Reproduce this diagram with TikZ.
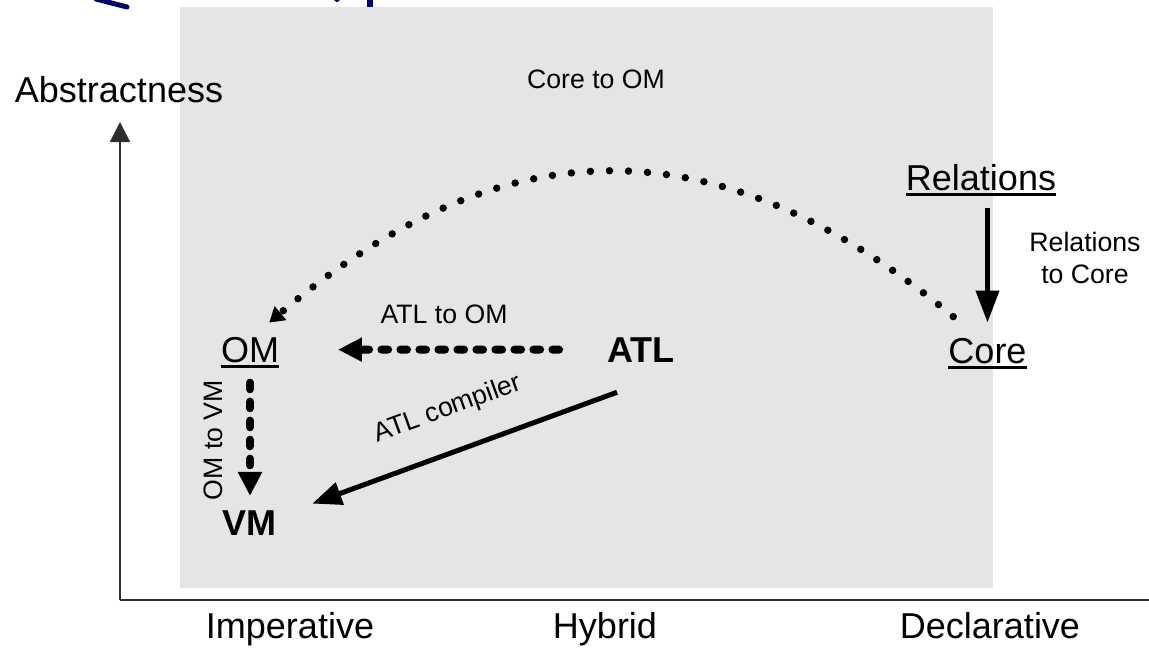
\documentclass[tikz,border=0pt]{standalone}
\usepackage{fontspec}
\setmainfont{Liberation Sans}
\usetikzlibrary{arrows.meta}
\definecolor{panel}{RGB}{229,229,229}
\definecolor{titleblue}{RGB}{0,0,102}
\definecolor{axisgray}{RGB}{45,45,45}
\begin{document}
\begin{tikzpicture}[x=0.75pt,y=-0.75pt,
  txt/.style={inner sep=0pt, font=\fontsize{27}{32}\selectfont},
  boldtxt/.style={inner sep=0pt, font=\fontsize{27}{32}\selectfont\bfseries},
  lbl/.style={inner sep=0pt, font=\fontsize{20}{24}\selectfont},
  axisline/.style={draw=axisgray, line width=1.2pt},
  uline/.style={line width=2.25pt},
  solidarrow/.style={line width=3.75pt, -{Triangle[length=24pt,width=17pt]}},
  dasharrow/.style={line width=6pt, line cap=round, dash pattern=on 5pt off 9.25pt,
    -{Triangle[length=18pt,width=17pt]}},
  dotarrow/.style={line width=5.6pt, line cap=round, dash pattern=on 0pt off 14.3pt,
    -{Triangle[length=11pt,width=13pt]}}]

\useasboundingbox (0,0) rectangle (1149,650);

% shaded panel behind the transformation languages
\fill[panel] (180,7) rectangle (993,588);

% remnants of the heading along the top edge
\draw[titleblue, line width=3.75pt, line cap=round] (96,-1) -- (127,7);
\fill[titleblue] (367,-10) rectangle (373,7);
\fill[titleblue] (337,-1) circle (3);

% axes
\coordinate (origin) at (120,600);
\coordinate (ytop) at (120,122);
\coordinate (xend) at (1149,600);
\draw[axisline, -{Triangle[length=15pt,width=15pt]}] (origin) -- (ytop);
\draw[axisline] (origin) -- (xend);

\node[txt, anchor=base] (abs) at (119,102) {Abstractness};
\node[txt, anchor=base] (imp) at (290,638) {Imperative};
\node[txt, anchor=base] (hyb) at (605,638) {Hybrid};
\node[txt, anchor=base] (dec) at (990,638) {Declarative};

% languages
\node[txt, anchor=base] (rel) at (981,190) {Relations};
\node[txt, anchor=base] (core) at (987.5,363) {Core};
\node[txt, anchor=base] (om) at (250,362) {OM};
\node[boldtxt, anchor=base] (atl) at (641,362) {ATL};
\node[boldtxt, anchor=base] (vm) at (249,535) {VM};

\foreach \n in {rel,core,om}
  \draw[uline] ([yshift=-3.4pt]\n.base west) -- ([yshift=-3.4pt]\n.base east);

% transformations
\draw[solidarrow, shorten <=12.75pt, shorten >=11.25pt] (core.north |- rel.south) -- (core.north);
\draw[dasharrow, shorten <=36pt, shorten >=44pt] (atl.west) -- (om.east);
\draw[dasharrow, shorten <=15pt, shorten >=10.5pt] (om.south) -- (om.south |- vm.north);
\draw[solidarrow, -{Triangle[length=22pt,width=17pt]}]
  ([shift={(-24,30)}]atl.south) -- ([shift={(36,-19)}]vm.east);
\draw[dotarrow]
  ([shift={(5,-21)}]core.north west) .. controls +(-235,-195) and +(235,-199) ..
  ([shift={(-10,-14)}]om.north east);

% transformation labels
\node[lbl, anchor=base] (lcore) at (596,88) {Core to OM};
\node[lbl, anchor=base] (latl) at (444,323) {ATL to OM};
\node[lbl, align=center] (lrel) at (1085,258) {Relations\\to Core};
\node[lbl, rotate=90] (lomvm) at (213,440) {OM to VM};
\node[lbl, rotate=20] (lcomp) at (448,409) {ATL compiler};
\end{tikzpicture}
\end{document}
